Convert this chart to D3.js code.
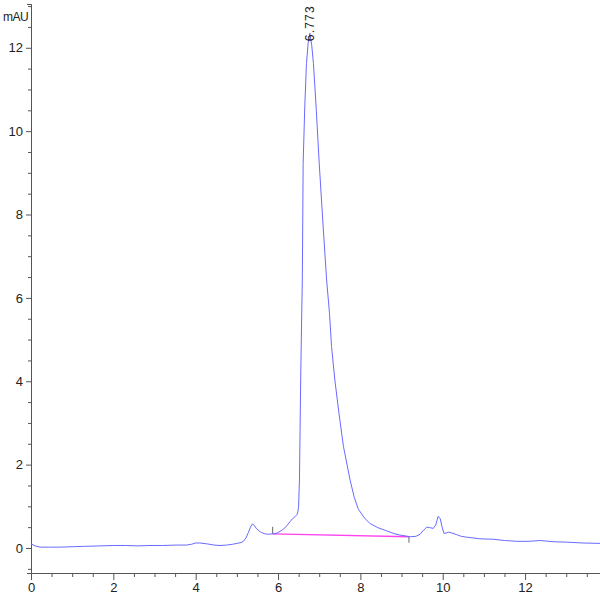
<!DOCTYPE html>
<html>
<head>
<meta charset="utf-8">
<script src="https://cdn.jsdelivr.net/npm/d3@7"></script>
<style>
  body { margin: 0; background: #fff; }
  .tick text { font-family: "Liberation Sans", Arial, sans-serif; font-size: 13px; fill: #222; }
</style>
</head>
<body>
<div id="chart"></div>
<script>
// chromatogram trace (time in min, signal in mAU)
var times = [0.00, 0.10, 0.22, 0.45, 0.70, 1.00, 1.30, 1.68, 2.00, 2.30, 2.60, 2.89, 3.20, 3.50, 3.78,
    3.90, 4.00, 4.10, 4.27, 4.45, 4.59, 4.75, 4.90, 5.00, 5.10, 5.16, 5.22, 5.28, 5.33, 5.38, 5.43,
    5.48, 5.55, 5.60, 5.68, 5.76, 5.89, 5.98, 6.05, 6.13, 6.21, 6.29, 6.35, 6.41, 6.46, 6.48, 6.50,
    6.52, 6.535, 6.55, 6.57, 6.59, 6.61, 6.65, 6.69, 6.73, 6.773, 6.82, 6.86, 6.93, 7.00, 7.09, 7.18,
    7.25, 7.30, 7.38, 7.48, 7.59, 7.75, 7.85, 7.95, 8.10, 8.23, 8.42, 8.64, 8.80, 8.96, 9.21, 9.35,
    9.45, 9.53, 9.61, 9.68, 9.77, 9.83, 9.89, 9.94, 9.98, 10.03, 10.09, 10.14, 10.22, 10.34, 10.45,
    10.58, 10.90, 11.23, 11.50, 11.80, 12.10, 12.36, 12.70, 13.01, 13.40, 13.82];
var signal = [0.10, 0.05, 0.02, 0.02, 0.02, 0.03, 0.04, 0.05, 0.06, 0.06, 0.05, 0.06, 0.06, 0.07, 0.07,
    0.09, 0.12, 0.12, 0.10, 0.07, 0.06, 0.07, 0.09, 0.11, 0.13, 0.16, 0.24, 0.37, 0.50, 0.58, 0.53,
    0.46, 0.40, 0.37, 0.34, 0.33, 0.34, 0.36, 0.40, 0.45, 0.53, 0.63, 0.70, 0.75, 0.80, 0.86, 1.00,
    1.63, 2.80, 4.03, 5.30, 6.43, 9.23, 10.60, 11.62, 12.10, 12.35, 12.05, 11.62, 10.50, 9.23, 7.80, 6.43,
    5.63, 4.83, 4.03, 3.23, 2.43, 1.63, 1.22, 0.93, 0.72, 0.59, 0.49, 0.41, 0.35, 0.31, 0.27, 0.28,
    0.33, 0.42, 0.50, 0.49, 0.47, 0.55, 0.76, 0.70, 0.52, 0.35, 0.36, 0.38, 0.36, 0.32, 0.28,
    0.26, 0.22, 0.21, 0.18, 0.16, 0.16, 0.18, 0.15, 0.14, 0.12, 0.11];

// integration baseline of the main peak
var baseTimes = [5.87, 9.18];
var baseValues = [0.34, 0.27];

var peakTime = 6.773;
var peakValue = 12.35;
var peakLabel = "6.773";

var xMajor = [0, 2, 4, 6, 8, 10, 12];
var yMajor = [0, 2, 4, 6, 8, 10, 12];

var svgWidth = 600;
var svgHeight = 600;
var margin = { top: 4, right: 0, bottom: 27, left: 31 };
var width = svgWidth - margin.left - margin.right;
var height = svgHeight - margin.top - margin.bottom;

var svg = d3.select("#chart")
    .append("svg")
    .attr("width", svgWidth)
    .attr("height", svgHeight);

var g = svg.append("g")
    .attr("transform", `translate(${margin.left}, ${margin.top})`);

var x = d3.scaleLinear()
    .domain([0, 13.82])
    .range([0, width]);

var y = d3.scaleLinear()
    .domain([-0.6, 13.05])
    .range([height, 0]);

var xMinor = d3.range(0, 13.82, 0.5).filter(v => v % 2 !== 0);
var yMinor = d3.range(-0.5, 13.05, 0.5).filter(v => v % 2 !== 0);

// minor ticks first, then majors with labels
g.append("g")
    .attr("transform", `translate(0, ${height})`)
    .call(d3.axisBottom(x).tickValues(xMinor).tickSize(4).tickFormat("").tickSizeOuter(0));
g.append("g")
    .attr("transform", `translate(0, ${height})`)
    .call(d3.axisBottom(x).tickValues(xMajor).tickSize(7).tickPadding(3).tickFormat(d3.format("d")).tickSizeOuter(0));

g.append("g")
    .call(d3.axisLeft(y).tickValues(yMinor).tickSize(3).tickFormat("").tickSizeOuter(4));
g.append("g")
    .call(d3.axisLeft(y).tickValues(yMajor).tickSize(5).tickPadding(3).tickFormat(d3.format("d")).tickSizeOuter(0));

g.selectAll(".domain, .tick line").attr("stroke", "#555");

// unit label
svg.append("text")
    .attr("x", 3)
    .attr("y", 21)
    .attr("text-anchor", "start")
    .style("font-family", "\"Liberation Sans\", Arial, sans-serif")
    .style("font-size", "12px")
    .style("letter-spacing", "-0.5px")
    .style("fill", "#222")
    .text("mAU");

// baseline under the peak
var baseLine = baseTimes.map((t, i) => [t, baseValues[i]]);
g.append("path")
    .datum(baseLine)
    .attr("fill", "none")
    .attr("stroke", "#ff44ee")
    .attr("stroke-width", 1.3)
    .attr("d", d3.line().x(d => x(d[0])).y(d => y(d[1])));

// start / end tick marks of the integration
g.append("line")
    .attr("x1", x(baseTimes[0])).attr("x2", x(baseTimes[0]))
    .attr("y1", y(baseValues[0]) - 7).attr("y2", y(baseValues[0]))
    .attr("stroke", "#666");
g.append("line")
    .attr("x1", x(baseTimes[1])).attr("x2", x(baseTimes[1]))
    .attr("y1", y(baseValues[1])).attr("y2", y(baseValues[1]) + 6)
    .attr("stroke", "#666");

// trace
var trace = times.map((t, i) => [t, signal[i]]);
g.append("path")
    .datum(trace)
    .attr("fill", "none")
    .attr("stroke", "#6a6aff")
    .attr("stroke-width", 1)
    .attr("stroke-linejoin", "round")
    .attr("d", d3.line().x(d => x(d[0])).y(d => y(d[1])));

// retention time label
g.append("text")
    .attr("transform", `translate(${x(peakTime) + 4}, ${y(peakValue) + 8}) rotate(-90)`)
    .attr("text-anchor", "start")
    .style("font-family", "\"Liberation Sans\", Arial, sans-serif")
    .style("font-size", "12px")
    .style("letter-spacing", "1.2px")
    .style("fill", "#222")
    .text(peakLabel);
</script>
</body>
</html>
